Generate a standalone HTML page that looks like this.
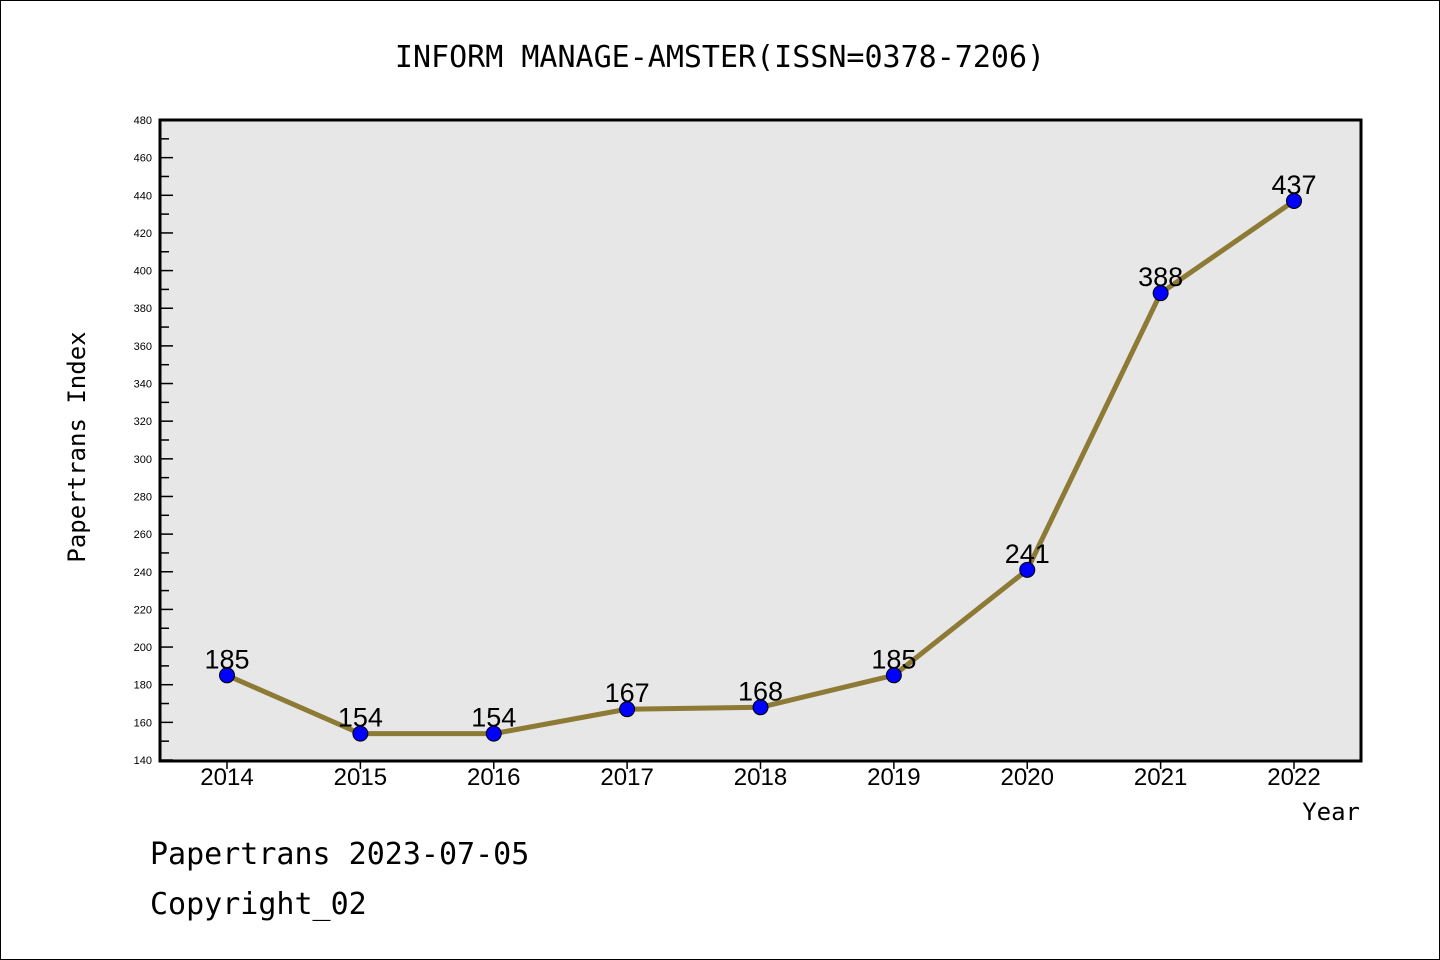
<!DOCTYPE html>
<html><head><meta charset="utf-8"><style>
body{margin:0;background:#fff}
svg{display:block;font-family:"Liberation Sans","WenQuanYi Zen Hei",sans-serif}
</style></head><body>
<svg id="c" width="1440" height="960">
<rect x="0.5" y="0.5" width="1439" height="959" fill="#fff" stroke="#000"/>
<text x="720" y="67" text-anchor="middle" font-size="30" font-family="WenQuanYi Zen Hei,monospace">INFORM MANAGE-AMSTER(ISSN=0378-7206)</text>
<rect x="160" y="120" width="1201" height="641" fill="#e7e7e7" stroke="#000" stroke-width="3"/>
<g id="yt"></g>
<g id="xt"></g>
<g id="ser"></g>
<text transform="translate(85,447) rotate(-90)" text-anchor="middle" font-size="24" font-family="WenQuanYi Zen Hei,monospace">Papertrans Index</text>
<text x="1360" y="820" text-anchor="end" font-size="24" font-family="WenQuanYi Zen Hei,monospace">Year</text>
<text x="150" y="864" font-size="30" font-family="WenQuanYi Zen Hei,monospace">Papertrans 2023-07-05</text>
<text x="150" y="914" font-size="30" font-family="WenQuanYi Zen Hei,monospace">Copyright_02</text>
</svg>
<script>
const years=["2014","2015","2016","2017","2018","2019","2020","2021","2022"];
const values=[185,154,154,167,168,185,241,388,437];
const yTicks=[140,160,180,200,220,240,260,280,300,320,340,360,380,400,420,440,460,480];
const NS="http://www.w3.org/2000/svg";
const X=i=>227+i*(1294-227)/(years.length-1);
const Y=v=>760-(v-140)*(640/340);
function mk(t,a,p,txt){const e=document.createElementNS(NS,t);for(const k in a)e.setAttribute(k,a[k]);if(txt!==undefined)e.textContent=txt;p.appendChild(e);return e;}
const yt=document.getElementById('yt'),xt=document.getElementById('xt'),ser=document.getElementById('ser');
yTicks.forEach(v=>{
 const l=mk('line',{x1:160,x2:173,y1:Y(v),y2:Y(v),stroke:'#000','stroke-width':1.5},yt);
 
 
 const m=mk('line',{x1:160,x2:169,y1:Y(v+10),y2:Y(v+10),stroke:'#000','stroke-width':1.5},yt);
 if(v===480)m.remove();
 
 
 const t=mk('text',{x:152,y:Y(v)+4,'text-anchor':'end','font-size':11},yt,v);
 
 
});
years.forEach((y,i)=>{
 const l=mk('line',{x1:X(i),x2:X(i),y1:761,y2:769,stroke:'#000','stroke-width':1.5},xt);
 
 
 const t=mk('text',{x:X(i),y:785,'text-anchor':'middle','font-size':24},xt,y);
 
 
});
const pl=mk('polyline',{points:values.map((v,i)=>X(i)+','+Y(v)).join(' '),fill:'none',stroke:'#8c7a35','stroke-width':5},ser);


values.forEach((v,i)=>{
 const c=mk('circle',{cx:X(i),cy:Y(v),r:7.5,fill:'#0000ff',stroke:'#000','stroke-width':1},ser);
 
 
 const t=mk('text',{x:X(i),y:Y(v)-7,'text-anchor':'middle','font-size':27},ser,v);
 
 
});
</script>
</body></html>
